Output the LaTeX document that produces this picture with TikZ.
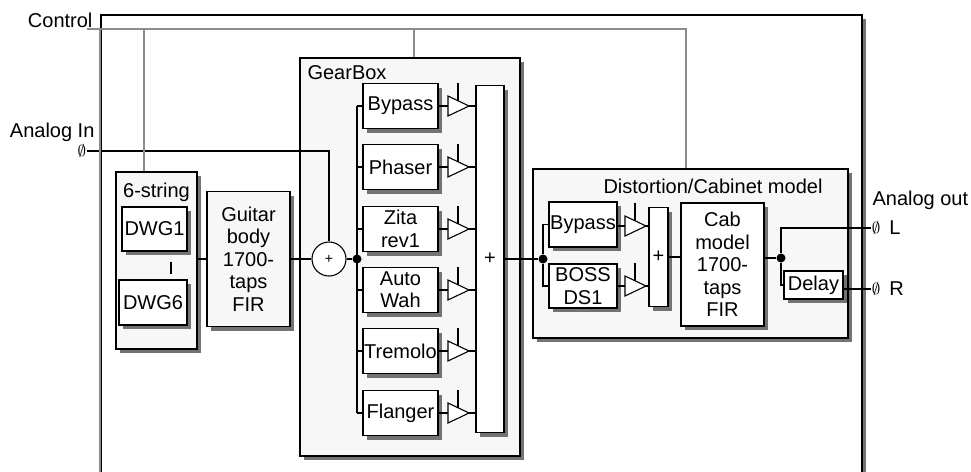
\documentclass[tikz,border=0pt]{standalone}
\usepackage{fontspec}
\setmainfont{Liberation Sans}
\usetikzlibrary{shadows,positioning}

\begin{document}
\begin{tikzpicture}[
	x=0.5pt, y=-0.5pt,
	font=\fontsize{10}{11.2}\selectfont,
	line width=0.55pt,
	blk/.style={
		rectangle, draw=black, fill=white,
		drop shadow={shadow xshift=2pt, shadow yshift=-2pt, fill=black!55, opacity=1},
		align=center, inner sep=0pt
	},
	grp/.style={blk, fill=black!3},
	fxbox/.style={blk, minimum width=37.5pt, minimum height=22.5pt},
	sumbar/.style={blk},
	sumc/.style={circle, draw, fill=white, minimum size=17pt, inner sep=0pt,
		font=\fontsize{7}{8}\selectfont},
	dot/.style={circle, fill=black, minimum size=4.5pt, inner sep=0pt},
	port/.style={inner sep=0pt, font=\fontsize{8.5}{8.5}\selectfont},
	txt/.style={inner sep=0pt},
	ctrl/.style={draw=black!45, line width=1pt},
	amp/.pic={
		\draw[fill=white] (0,-10) -- (21,0) -- (0,10) -- cycle;
		\draw (10,-5) -- (10,-23);
		\coordinate (-in) at (0,0);
		\coordinate (-out) at (21,0);
	}
]
\useasboundingbox (0,0) rectangle (971,472);

% outer frame, runs off the bottom
\node[blk, minimum width=380.5pt, minimum height=237.5pt] (frame) at (481.5,252.5) {};

% labels on the left
\node[txt, anchor=east] (ctltxt) at (93,20) {Control};
\coordinate (ctl) at (87,29);
\node[txt, anchor=east] (aintxt) at (95,132) {Analog In};
\node[port] (ain) at (82,151) {$\emptyset$};

% string model and body filter
\node[grp, minimum width=40.5pt, minimum height=88.5pt] (six) at (156.5,260.5) {};
\node[txt] at (156.5,192) {6-string};
\node[blk, minimum width=32.5pt, minimum height=22pt] (dwg1) at (154.5,229) {DWG1};
\node[blk, minimum width=34pt, minimum height=22.5pt] (dwg6) at (153,302.5) {DWG6};
\draw ([xshift=8.25pt,yshift=-5pt]dwg1.south) -- ++(0,12);

\node[grp, minimum width=41.5pt, minimum height=67.5pt] (body) at (248.5,259)
	{Guitar\\body\\1700-\\taps\\FIR};
\draw (six.east |- body) -- (body);

% GearBox
\node[grp, minimum width=110pt, minimum height=199pt] (gear) at (410,257) {};
\node[txt, anchor=west] at (307,73) {GearBox};

\node[sumc] (sum) at (329,259) {+};
\node[dot] (j1) at (357,259) {};
\draw (body) -- (sum);
\draw (sum) -- (j1);
\draw (ain) -| (sum.north);

\node[sumbar, minimum width=14pt, minimum height=173.5pt] (sumA) at (490,259) {+};

\draw (j1 |- 0,106) -- (j1 |- 0,413);
\foreach \n/\y/\t in {byp/106/Bypass, phs/167/Phaser, zita/229/{Zita\\rev1},
		wah/290/{Auto\\Wah}, trem/351/Tremolo, flng/413/Flanger} {
	\node[fxbox] (\n) at (400.5,\y) {\t};
	\pic (g\n) at (448,\y) {amp};
	\draw (j1 |- \n) -- (\n);
	\draw (\n) -- (g\n-in);
	\draw (g\n-out) -- (g\n-out -| sumA.west);
}

% Distortion/Cabinet model
\node[grp, minimum width=157.5pt, minimum height=84.5pt] (dist) at (690.5,253.5) {};
\node[txt] at (713,186) {Distortion/Cabinet model};

\node[dot] (j2) at (543,259) {};
\draw (sumA.east |- j2) -- (j2);

\node[blk, minimum width=34pt, minimum height=22.5pt] (dbyp) at (583,224.5) {Bypass};
\node[blk, minimum width=34pt, minimum height=22pt] (boss) at (583,286) {BOSS\\DS1};
\draw (j2) |- (dbyp);
\draw (j2) |- (boss);

\node[sumbar, minimum width=9.5pt, minimum height=49.5pt] (sumB) at (658.5,257) {+};
\pic (gd1) at (625,226) {amp};
\pic (gd2) at (625,286) {amp};
\draw (dbyp.east |- gd1-in) -- (gd1-in);
\draw (boss) -- (gd2-in);
\draw (gd1-out) -- (gd1-out -| sumB.west);
\draw (gd2-out) -- (gd2-out -| sumB.west);

\node[blk, minimum width=41.5pt, minimum height=61.5pt] (cab) at (722.5,264.5)
	{Cab\\model\\1700-\\taps\\FIR};
\draw (sumB.east) -- (sumB.east -| cab.west);

\node[dot] (j3) at (781,258) {};
\node[blk, minimum width=29.5pt, minimum height=14pt] (delay) at (813.5,285) {Delay};
\draw (cab.east |- j3) -- (j3);

% outputs
\node[txt, anchor=west] (aouttxt) at (872,200) {Analog out};
\node[port] (outl) at (876,228) {$\emptyset$};
\node[port] (outr) at (876,289) {$\emptyset$};
\node[txt, right=4pt of outl] {L};
\node[txt, right=4pt of outr] {R};
\draw (j3) |- (outl);
\draw (j3) |- (delay);
\draw (delay.east |- outr) -- (outr);

% control bus
\draw[ctrl] (ctl) -| ([xshift=-2.25pt]dist.north);
\draw[ctrl] ([xshift=-6.25pt]six.north) -- ([xshift=-6.25pt]six.north |- ctl);
\draw[ctrl] ([xshift=2pt]gear.north) -- ([xshift=2pt]gear.north |- ctl);
\draw[ctrl] (frame.west |- ctl) -- (frame.south west);

\end{tikzpicture}
\end{document}
